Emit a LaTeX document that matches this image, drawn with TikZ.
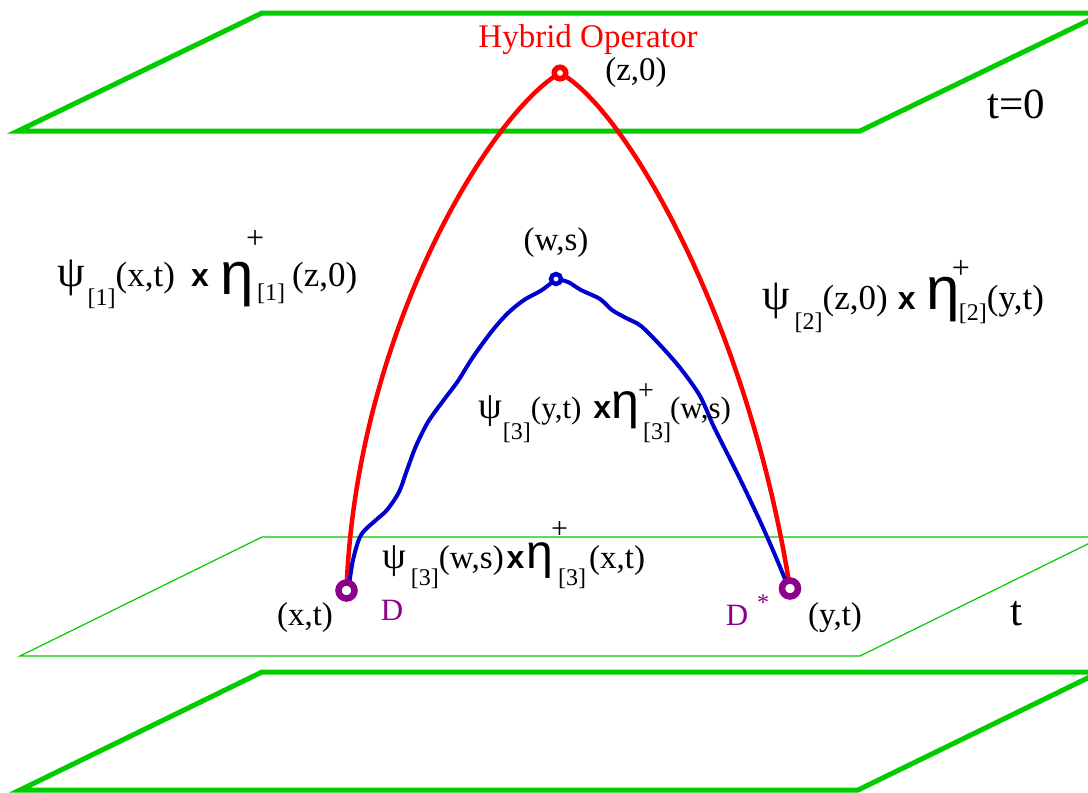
\documentclass[tikz,border=0pt]{standalone}
\usepackage{fontspec}
\setmainfont{Liberation Serif}
\newfontfamily\hsans{Liberation Sans}
\newcommand\FS[1]{\fontsize{#1}{#1}\selectfont}
% lowered / raised small text: \lo{shift}{text}
\newcommand\lo[2]{\raisebox{-#1pt}{\FS{24}#2}}
\newcommand\hi[3]{\raisebox{#1pt}{\FS{#2}#3}}
\newcommand\bx{{\hsans\bfseries\FS{32}x}}
% eta: size, lowering
\newcommand\myeta[2]{\raisebox{-#2pt}{\hsans\FS{#1}η}}
\newcommand\mypsi[1]{{\FS{#1}ψ}}
\definecolor{pgreen}{RGB}{0,204,0}
\definecolor{pblue}{RGB}{0,0,204}
\definecolor{ppurple}{RGB}{140,0,140}
\tikzset{
  thickplane/.style={draw=pgreen,line width=5pt},
  thinplane/.style={draw=pgreen,line width=1.2pt},
  redline/.style={draw=red,line width=4.5pt},
  blueline/.style={draw=pblue,line width=4pt,line join=round,line cap=round},
  ring/.style={circle,draw,fill=white,inner sep=0pt},
  lbl/.style={inner sep=0pt,font=\FS{33}},
  formula/.style={inner sep=0pt,anchor=base west},
}
\begin{document}
\begin{tikzpicture}[x=1pt,y=-1pt]
\useasboundingbox (0,0) rectangle (1088,793);
\clip (0,0) rectangle (1088,793);
\fill[white] (0,0) rectangle (1088,793);
% planes
\draw[thickplane] (262,13) -- (1104,13) -- (860,131) -- (18,131) -- cycle;
\draw[thinplane] (262,537) -- (1102,537) -- (860,656) -- (20,656) -- cycle;
\draw[thickplane] (262,672) -- (1100,672) -- (858,790) -- (20,790) -- cycle;
% end points
\coordinate (top) at (560,73);
\coordinate (mid) at (556,279);
\coordinate (xt) at (346.5,590.5);
\coordinate (yt) at (790,588.5);
% curves
\draw[redline] (xt) .. controls (356,330) and (492,112) .. (top)
  .. controls (625,108) and (748,320) .. (yt);
\draw[blueline] plot[smooth,tension=0.5] coordinates {(349,586) (353,560) (361,535) (376,520) (387,510) (399,492) (407,470) (416,446) (428,422) (443,401) (458,381) (473,357) (492,331) (508,313) (524,300) (542,290) (556,279)};
\draw[blueline] plot[smooth,tension=0.5] coordinates {(556,279) (568,282) (581,290) (600,299) (612,310) (626,318) (641,326) (661,346) (681,369) (700,396) (713,425) (726,451) (741,481) (760,521) (775,555) (787,584)};
% rings
\node[ring,draw=red,line width=5.5pt,minimum size=11.5pt] (ntop) at (top) {};
\node[ring,draw=pblue,line width=4.5pt,minimum size=10pt] (nmid) at (mid) {};
\node[ring,draw=ppurple,line width=6.5pt,minimum size=16pt] (nxt) at (xt) {};
\node[ring,draw=ppurple,line width=6.5pt,minimum size=16pt] (nyt) at (yt) {};
% labels
\node[lbl,text=red] (hyb) at (588,40) {Hybrid Operator};
\node[lbl] (z0) at (636,73) {(z,0)};
\node[lbl,font=\FS{43}] (t0) at (1016,104) {t=0};
\node[lbl] (ws) at (556,243) {(w,s)};
\node[lbl] (xtl) at (305,618) {(x,t)};
\node[lbl,text=ppurple,font=\FS{31}] (D) at (392,610) {D};
\node[lbl,text=ppurple,font=\FS{31}] (Ds) at (737,615) {D};
\node[lbl,text=ppurple,font=\FS{24}] (star) at (763,603) {*};
\node[lbl] (ytl) at (835,618) {(y,t)};
\node[lbl,font=\FS{43}] (tl) at (1016,614) {t};
% formulas
\node[formula,font=\FS{35}] (f1) at (57,286) {\mypsi{44}\hspace{3pt}\lo{19}{[1]}(x,t)\hspace{16pt}\bx\hspace{12pt}\myeta{60}{8}\rlap{\hspace{-8pt}\hi{38}{32}{+}}\hspace{3pt}\lo{14}{[1]}\hspace{7pt}(z,0)};
\node[formula,font=\FS{35}] (f2) at (762,309) {\mypsi{44}\hspace{5pt}\lo{20}{[2]}(z,0)\hspace{10pt}\bx\hspace{11pt}\myeta{60}{0}\rlap{\hspace{-8pt}\hi{31}{32}{+}}\hspace{-1pt}\lo{11}{[2]}(y,t)};
\node[formula,font=\FS{31}] (f3) at (478,418) {\mypsi{38}\hspace{1pt}\lo{21}{[3]}(y,t)\hspace{12pt}\bx\myeta{50}{0}\rlap{\hspace{-1pt}\hi{19}{28}{+}}\hspace{4pt}\lo{21}{[3]}\hspace{-1pt}(w,s)};
\node[formula,font=\FS{33}] (f4) at (382,568) {\mypsi{38}\hspace{5pt}\lo{17}{[3]}(w,s)\hspace{3pt}\bx\hspace{2pt}\myeta{48}{0}\rlap{\hspace{-2pt}\hi{30}{30}{+}}\hspace{5pt}\lo{17}{[3]}\hspace{3pt}(x,t)};
\end{tikzpicture}
\end{document}
